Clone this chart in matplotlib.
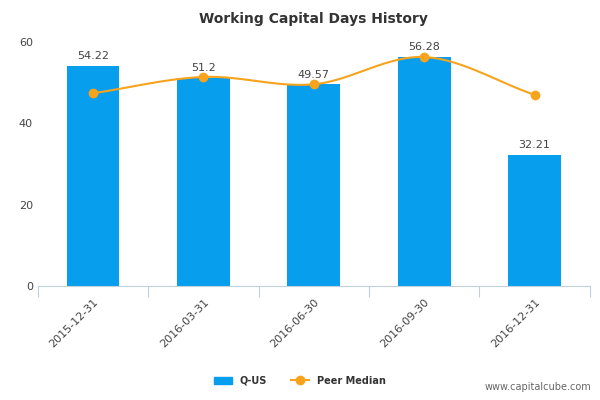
import matplotlib
matplotlib.use("Agg")
import matplotlib.pyplot as plt
import numpy as np

categories = ["2015-12-31", "2016-03-31", "2016-06-30", "2016-09-30", "2016-12-31"]
company = [54.22, 51.2, 49.57, 56.28, 32.21]
peer = [47.4, 51.4, 49.6, 56.3, 47.0]
labels = ["54.22", "51.2", "49.57", "56.28", "32.21"]

fig = plt.figure(figsize=(6, 4), dpi=100)
ax = fig.add_axes([0.063, 0.285, 0.92, 0.61])
x = np.arange(len(categories))
ax.bar(x, company, width=0.48, color="#069eed", zorder=2)

# Catmull-Rom smooth curve through peer points
p = np.array(peer, dtype=float)
xs, ys = [], []
for i in range(len(p) - 1):
    m0 = (p[i+1] - p[i-1]) / 2 if i > 0 else (p[i+1] - p[i])
    m1 = (p[i+2] - p[i]) / 2 if i + 2 < len(p) else (p[i+1] - p[i])
    t = np.linspace(0, 1, 30)
    h00 = 2*t**3 - 3*t**2 + 1; h10 = t**3 - 2*t**2 + t
    h01 = -2*t**3 + 3*t**2; h11 = t**3 - t**2
    xs.extend(i + t); ys.extend(h00*p[i] + h10*m0 + h01*p[i+1] + h11*m1)
ax.plot(xs, ys, color="#f7a31c", lw=1.5, zorder=3)
ax.plot(x, peer, "o", color="#f7a31c", ms=6, zorder=4)

for xi, v, l in zip(x, company, labels):
    ax.text(xi, v + 1.2, l, ha="center", va="bottom", fontsize=8, color="#444444", zorder=5)

ax.set_xlim(-0.5, 4.5)
ax.set_ylim(0, 60)
ax.set_yticks([0, 20, 40, 60])
ax.set_xticks(np.arange(-0.5, 5, 1), minor=False)
ax.set_xticks(x, minor=True)
ax.set_xticklabels([""] * 6)
ax.set_xticklabels(categories, minor=True, rotation=45, ha="right", rotation_mode="anchor", fontsize=8, color="#444444")
ax.tick_params(axis="x", which="minor", length=0, pad=8)
ax.tick_params(axis="x", which="major", length=8, color="#c0d0e0")
ax.tick_params(axis="y", length=0, labelsize=8, labelcolor="#444444")
for s in ["top", "right", "left"]:
    ax.spines[s].set_visible(False)
ax.spines["bottom"].set_color("#c0d0e0")
ax.set_title("Working Capital Days History", fontsize=10, fontweight="bold", color="#333333", pad=14)

from matplotlib.patches import Patch
from matplotlib.lines import Line2D
handles = [Patch(color="#069eed", label="Q-US"),
           Line2D([0], [0], color="#f7a31c", marker="o", lw=1.5, label="Peer Median")]
leg = fig.legend(handles=handles, loc="center", bbox_to_anchor=(0.5, 0.048), ncol=2, frameon=False,
                 prop={"size": 7, "weight": "bold"}, handlelength=1.8, columnspacing=2.5)
for t in leg.get_texts():
    t.set_color("#333333")
fig.text(0.985, 0.02, "www.capitalcube.com", ha="right", va="bottom", fontsize=7, color="#666666")
fig.savefig("out.png", dpi=100)
